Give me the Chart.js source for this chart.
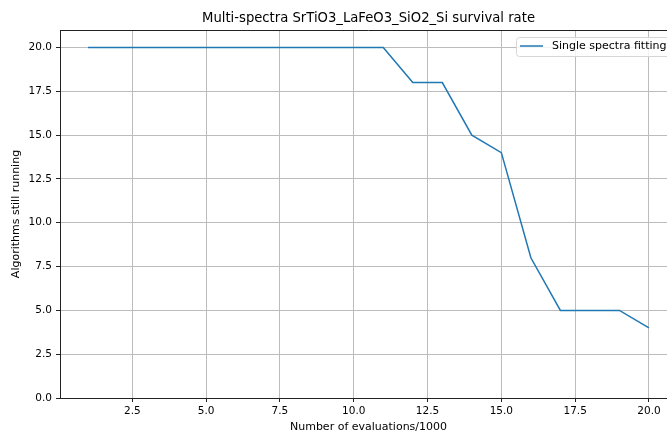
<!DOCTYPE html>
<html lang="en">
  <head>
    <meta charset="UTF-8" />
    <title>Survival rate</title>
    <style>
      body {
        margin: 0;
        padding: 0;
        overflow: hidden;
        background-color: #fff;
      }
      canvas {
        display: block;
      }
    </style>
  </head>
  <body>
    <canvas id="survivalChart" width="700" height="434"></canvas>

    <script src="https://cdn.jsdelivr.net/npm/chart.js"></script>
    <script>
      const evaluations = [1, 2, 3, 4, 5, 6, 7, 8, 9, 10, 11, 12, 13, 14, 15, 16, 17, 18, 19, 20];
      const stillRunning = [20, 20, 20, 20, 20, 20, 20, 20, 20, 20, 20, 18, 18, 15, 14, 8, 5, 5, 5, 4];
      const xTicks = [2.5, 5, 7.5, 10, 12.5, 15, 17.5, 20];
      const yTicks = [0, 2.5, 5, 7.5, 10, 12.5, 15, 17.5, 20];
      const seriesName = "Single spectra fitting";
      const chartTitle = "Multi-spectra SrTiO3_LaFeO3_SiO2_Si survival rate";

      const FONT = "'DejaVu Sans', sans-serif";

      // title, top/right frame and legend box
      const decorations = {
        id: "decorations",
        afterDraw(chart) {
          const { ctx, chartArea: a } = chart;
          ctx.save();
          ctx.strokeStyle = "#222";
          ctx.lineWidth = 1;
          ctx.beginPath();
          ctx.moveTo(a.left, a.top + 0.5);
          ctx.lineTo(a.right, a.top + 0.5);
          ctx.moveTo(a.right - 0.5, a.top);
          ctx.lineTo(a.right - 0.5, a.bottom);
          ctx.stroke();

          ctx.fillStyle = "#000";
          ctx.font = "13.2px " + FONT;
          ctx.textAlign = "center";
          ctx.textBaseline = "middle";
          ctx.fillText(chartTitle, 368.5, 19);

          // legend
          const lx = a.left + 456, ly = a.top + 7, lw = 200, lh = 19;
          ctx.fillStyle = "rgba(255,255,255,0.8)";
          ctx.strokeStyle = "#d6d6d6";
          ctx.beginPath();
          ctx.roundRect(lx + 0.5, ly + 0.5, lw, lh, 3);
          ctx.fill();
          ctx.stroke();
          ctx.strokeStyle = "#1f77b4";
          ctx.lineWidth = 1.5;
          ctx.beginPath();
          ctx.moveTo(lx + 4, ly + 9);
          ctx.lineTo(lx + 27, ly + 9);
          ctx.stroke();
          ctx.fillStyle = "#000";
          ctx.font = "11px " + FONT;
          ctx.textAlign = "left";
          ctx.fillText(seriesName, lx + 36, ly + 9.5);
          ctx.restore();
        },
      };

      const ctx = document.getElementById("survivalChart").getContext("2d");
      new Chart(ctx, {
        type: "line",
        data: {
          datasets: [
            {
              label: seriesName,
              data: evaluations.map((x, i) => ({ x: x, y: stillRunning[i] })),
              borderColor: "#1f77b4",
              borderWidth: 1.5,
              pointRadius: 0,
              fill: false,
              tension: 0,
            },
          ],
        },
        options: {
          responsive: false,
          animation: false,
          layout: { padding: { top: 30, right: 23, left: 0, bottom: 0 } },
          plugins: {
            legend: { display: false },
            title: { display: false },
            tooltip: { enabled: false },
          },
          scales: {
            x: {
              type: "linear",
              min: 0.05,
              max: 20.95,
              afterBuildTicks: (s) => {
                s.ticks = xTicks.map((v) => ({ value: v }));
              },
              afterFit: (s) => {
                s.height = 36;
              },
              ticks: {
                color: "#000",
                font: { family: FONT, size: 10.5 },
                padding: 3,
                maxRotation: 0,
                callback: (v) => v.toFixed(1),
              },
              grid: {
                color: "#bcbcbc",
                tickColor: "#222",
                tickLength: 4,
              },
              border: { color: "#222", width: 1 },
              title: {
                display: true,
                text: "Number of evaluations/1000",
                color: "#000",
                font: { family: FONT, size: 11 },
                padding: { top: 0, bottom: 0 },
              },
            },
            y: {
              min: 0,
              max: 21,
              afterBuildTicks: (s) => {
                s.ticks = yTicks.map((v) => ({ value: v }));
              },
              afterFit: (s) => {
                s.width = 60;
              },
              ticks: {
                color: "#000",
                font: { family: FONT, size: 10.5 },
                padding: 4,
                callback: (v) => v.toFixed(1),
              },
              grid: {
                color: "#bcbcbc",
                tickColor: "#222",
                tickLength: 4,
              },
              border: { color: "#222", width: 1 },
              title: {
                display: true,
                text: "Algorithms still running",
                color: "#000",
                font: { family: FONT, size: 11 },
                padding: { top: 10, bottom: 0 },
              },
            },
          },
        },
        plugins: [decorations],
      });
    </script>
  </body>
</html>
